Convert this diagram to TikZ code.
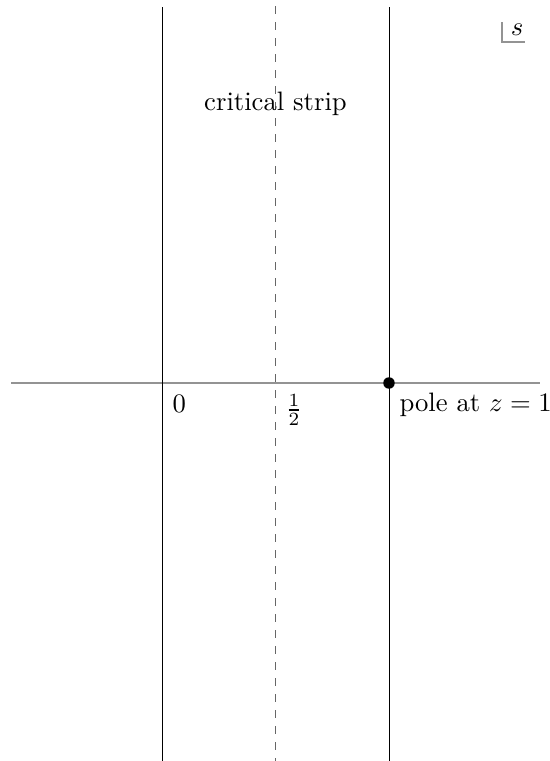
\documentclass[tikz,border=0pt]{standalone}
\begin{document}
\begin{tikzpicture}[x=0.375pt,y=-0.375pt,
  strip/.style={black, line width=0.35pt},
  midline/.style={black!60, dashed, line width=0.6pt},
  axisline/.style={gray!85, line width=0.8pt},
  lbl/.style={inner sep=0pt, font=\normalsize}]
\useasboundingbox (0,0) rectangle (550,761);
% axis
\coordinate (axL) at (11,383);
\coordinate (axR) at (540,383);
\draw[axisline] (axL) -- (axR);
% vertical lines
\coordinate (t0) at (162,7);   \coordinate (b0) at (162,761);
\coordinate (th) at (275.5,6); \coordinate (bh) at (275.5,761);
\coordinate (t1) at (389,7);   \coordinate (b1) at (389,761);
\draw[strip] (t0) -- (b0);
\draw[midline] (th) -- (bh);
\draw[strip] (t1) -- (b1);
% pole
\node[circle, fill=black, inner sep=0pt, minimum size=4.3pt] (pole) at (389,383) {};
% labels
\node[lbl, anchor=west] (l0) at (172,404) {$0$};
\node[lbl, anchor=west] (lh) at (285,410) {$\frac{1}{2}$};
\node[lbl, anchor=west] (lp) at (399,405) {pole at $z=1$};
\node[lbl] (cs) at (275.5,104) {critical strip};
% variable box
\coordinate (sa) at (502,22);
\coordinate (sb) at (502,42);
\coordinate (sc) at (525,42);
\draw[gray!85, line width=0.6pt] (sa) -- (sb) -- (sc);
\node[lbl] (s) at (517,30) {$s$};
\end{tikzpicture}
\end{document}
